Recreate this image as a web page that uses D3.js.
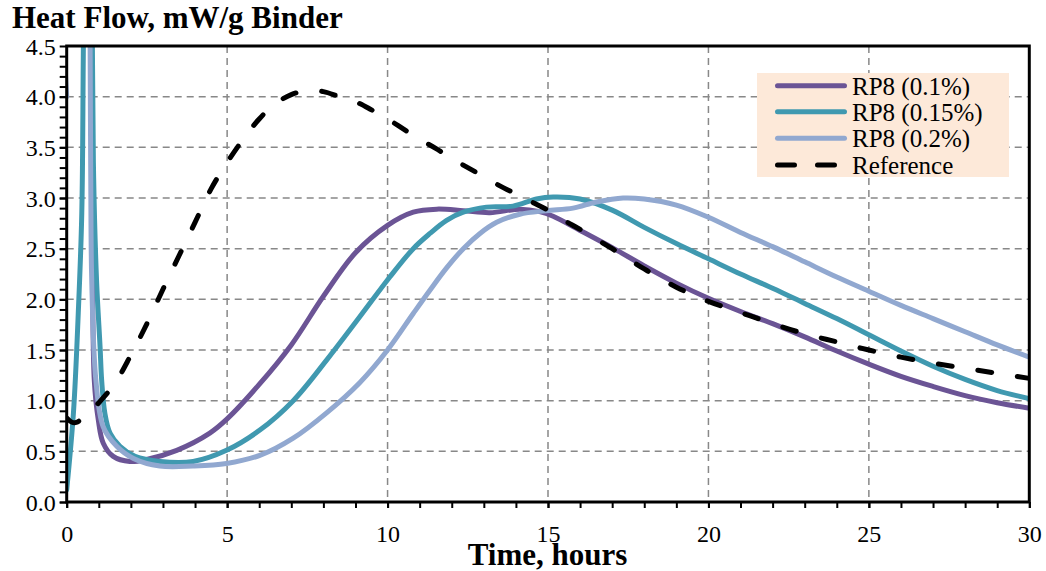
<!DOCTYPE html>
<html>
<head>
<meta charset="utf-8">
<script src="https://cdn.jsdelivr.net/npm/d3@7"></script>
<style>
  html, body { margin: 0; padding: 0; background: #fff; }
  svg { display: block; }
</style>
</head>
<body>
<svg id="chart" width="1046" height="571"></svg>
<script>
// Heat flow (mW/g binder) against time (hours) for three RP8 dosages and the reference mix.
const hoursRP8_01 = [0.7, 0.78, 0.80, 0.86, 0.985, 1.14, 1.45, 1.97, 2.49, 3.43, 4.46, 5, 6, 7, 8, 9, 10, 10.8, 11.53, 12.36, 13.19, 14.12, 14.74, 15.16, 16, 17, 18, 19, 20, 21, 22, 23, 24, 25, 26, 27, 28, 29, 30];
const flowRP8_01  = [8.0, 4.5, 3.18, 1.2, 0.81, 0.58, 0.45, 0.40, 0.42, 0.51, 0.68, 0.82, 1.16, 1.55, 2.03, 2.46, 2.73, 2.86, 2.89, 2.875, 2.855, 2.89, 2.865, 2.82, 2.68, 2.51, 2.33, 2.16, 2.01, 1.88, 1.76, 1.63, 1.49, 1.36, 1.24, 1.14, 1.05, 0.98, 0.925];

const hoursRP8_015 = [0, 0.21, 0.36, 0.47, 0.52, 0.6, 0.75, 0.8, 0.84, 0.93, 1.04, 1.09, 1.19, 1.35, 1.66, 2.13, 2.91, 3.94, 4.98, 6.02, 7.06, 8.1, 9.14, 10.07, 10.8, 11.32, 11.84, 12.36, 13.08, 13.91, 14.64, 15.16, 16, 17, 18, 19, 20, 21, 22, 23, 24, 25, 26, 27, 28, 29, 30];
const flowRP8_015  = [0.12, 0.88, 1.86, 2.85, 4.5, 7.0, 7.0, 4.5, 3.2, 2.19, 1.53, 1.2, 0.875, 0.68, 0.55, 0.45, 0.40, 0.40, 0.51, 0.71, 1.0, 1.40, 1.83, 2.22, 2.50, 2.65, 2.78, 2.86, 2.91, 2.92, 2.99, 3.01, 2.99, 2.88, 2.71, 2.55, 2.40, 2.25, 2.11, 1.96, 1.81, 1.65, 1.49, 1.34, 1.21, 1.10, 1.02];

const hoursRP8_02 = [0, 0.05, 0.65, 0.73, 0.75, 0.78, 0.91, 1.14, 1.56, 2.08, 2.9, 3.94, 4.98, 6.02, 7.06, 8.1, 9.14, 10.0, 10.8, 11.32, 11.84, 12.36, 12.88, 13.40, 14.12, 14.95, 15.78, 16.51, 17.34, 18, 19, 20, 21, 22, 23, 24, 25, 26, 27, 28, 29, 30];
const flowRP8_02  = [4.0, 8.0, 8.0, 4.5, 3.18, 2.19, 1.2, 0.74, 0.55, 0.43, 0.355, 0.355, 0.38, 0.46, 0.63, 0.88, 1.18, 1.50, 1.86, 2.09, 2.31, 2.50, 2.65, 2.76, 2.84, 2.875, 2.90, 2.96, 3.00, 2.99, 2.93, 2.81, 2.66, 2.52, 2.37, 2.22, 2.08, 1.94, 1.81, 1.68, 1.55, 1.43];

const hoursRef = [0, 0.15, 0.3, 0.5, 0.75, 1.0, 1.5, 2.0, 2.5, 3.0, 3.5, 4.0, 4.5, 5.0, 5.5, 6.0, 6.5, 7.0, 7.5, 8.0, 8.5, 9.0, 9.5, 10, 10.5, 11, 11.5, 12, 12.5, 13, 13.5, 14, 14.5, 15, 15.5, 16, 17, 18, 19, 20, 21, 22, 23, 24, 25, 26, 27, 28, 29, 30];
const flowRef  = [0.83, 0.79, 0.785, 0.83, 0.9, 0.98, 1.17, 1.45, 1.76, 2.10, 2.43, 2.76, 3.09, 3.35, 3.58, 3.78, 3.93, 4.02, 4.06, 4.05, 4.0, 3.95, 3.87, 3.78, 3.68, 3.58, 3.49, 3.39, 3.30, 3.21, 3.12, 3.04, 2.96, 2.88, 2.78, 2.69, 2.50, 2.30, 2.12, 1.98, 1.87, 1.76, 1.66, 1.58, 1.50, 1.43, 1.37, 1.32, 1.27, 1.22];

const seriesNames = ["RP8 (0.1%)", "RP8 (0.15%)", "RP8 (0.2%)", "Reference"];
const xTicks = [0, 5, 10, 15, 20, 25, 30];
const yTicks = [0.0, 0.5, 1.0, 1.5, 2.0, 2.5, 3.0, 3.5, 4.0, 4.5];

const series = [
  { name: seriesNames[0], xs: hoursRP8_01,  ys: flowRP8_01,  color: "#6b5495", dash: null },
  { name: seriesNames[1], xs: hoursRP8_015, ys: flowRP8_015, color: "#4099b0", dash: null },
  { name: seriesNames[2], xs: hoursRP8_02,  ys: flowRP8_02,  color: "#91a8d0", dash: null },
  { name: seriesNames[3], xs: hoursRef,     ys: flowRef,     color: "#000000", dash: "14 26" }
];

const SERIF = '"Liberation Serif", "Times New Roman", Times, serif';
const svg = d3.select("#chart");
const plotL = 66.7, plotR = 1029.3, plotT = 46, plotB = 502;

const x = d3.scaleLinear().domain([0, 30]).range([plotL, plotR]);
const y = d3.scaleLinear().domain([0, 4.5]).range([plotB, plotT]);

// gridlines
const grid = svg.append("g").attr("stroke", "#888").attr("stroke-width", 1.5).attr("stroke-dasharray", "7 5");
grid.selectAll("line.h").data(yTicks.filter(v => v > 0 && v < 4.5)).join("line").attr("class", "h")
  .attr("x1", plotL).attr("x2", plotR).attr("y1", d => y(d)).attr("y2", d => y(d));
grid.selectAll("line.v").data(xTicks.filter(v => v > 0 && v < 30)).join("line").attr("class", "v")
  .attr("y1", plotT).attr("y2", plotB).attr("x1", d => x(d)).attr("x2", d => x(d));

// legend box (behind curves)
const legend = svg.append("g");
legend.append("rect").attr("x", 757).attr("y", 73).attr("width", 252).attr("height", 104).attr("fill", "#fde9d9");

// curves, clipped to the plot area
svg.append("clipPath").attr("id", "plotclip").append("rect")
  .attr("x", plotL).attr("y", plotT).attr("width", plotR - plotL).attr("height", plotB - plotT);

const line = d3.line().curve(d3.curveCatmullRom.alpha(0.5)).x(d => x(d[0])).y(d => y(d[1]));
const curves = svg.append("g").attr("clip-path", "url(#plotclip)");
series.forEach(s => {
  curves.append("path")
    .attr("d", line(s.xs.map((v, i) => [v, s.ys[i]])))
    .attr("fill", "none")
    .attr("stroke", s.color)
    .attr("stroke-width", 5)
    .attr("stroke-linecap", "round")
    .attr("stroke-linejoin", "round")
    .attr("stroke-dasharray", s.dash);
});

// axes
const yAxis = d3.axisLeft(y).tickValues(yTicks).tickFormat(d3.format(".1f")).tickSize(7).tickPadding(4);
const yMinor = d3.axisLeft(y).tickValues(d3.range(0, 45).map(i => i / 10)).tickFormat("").tickSize(7);
const xAxis = d3.axisBottom(x).tickValues(xTicks).tickFormat(d3.format("d")).tickSize(6).tickPadding(6);
const xMinor = d3.axisBottom(x).tickValues(d3.range(0, 31)).tickFormat("").tickSize(6);

function styleAxis(g) {
  g.attr("font-family", null).attr("font-size", null);
  g.select(".domain").remove();
  g.selectAll(".tick line").attr("stroke", "#000").attr("stroke-width", 2);
  g.selectAll(".tick text").style("font-family", SERIF).style("font-size", "24px").attr("fill", "#000");
}
svg.append("g").attr("transform", `translate(${plotL},0)`).call(yMinor).call(styleAxis);
const gy = svg.append("g").attr("transform", `translate(${plotL},0)`).call(yAxis).call(styleAxis);
gy.selectAll(".tick text").attr("dy", null).attr("y", 8);
svg.append("g").attr("transform", `translate(0,${plotB})`).call(xMinor).call(styleAxis);
const gx = svg.append("g").attr("transform", `translate(0,${plotB})`).call(xAxis).call(styleAxis);
gx.selectAll(".tick text").attr("dy", null).attr("y", 40);

// frame
svg.append("rect").attr("x", plotL).attr("y", plotT).attr("width", plotR - plotL).attr("height", plotB - plotT)
  .attr("fill", "none").attr("stroke", "#000").attr("stroke-width", 3);

// legend entries
series.forEach((s, i) => {
  const ly = [85.7, 111.7, 138.3, 165][i];
  legend.append("line")
    .attr("x1", 777.5).attr("x2", 844.5).attr("y1", ly).attr("y2", ly)
    .attr("stroke", s.color).attr("stroke-width", 5).attr("stroke-linecap", "round")
    .attr("stroke-dasharray", s.dash ? "17 23" : null);
  legend.append("text").attr("x", 852).attr("y", ly + 9)
    .style("font-family", SERIF).style("font-size", "25px").attr("fill", "#000").text(s.name);
});

// titles
svg.append("text").attr("x", 12).attr("y", 28)
  .style("font-family", SERIF).style("font-size", "31px").style("font-weight", "bold")
  .text("Heat Flow, mW/g Binder");
svg.append("text").attr("x", 547.5).attr("y", 565)
  .style("font-family", SERIF).style("font-size", "31px").style("font-weight", "bold")
  .attr("text-anchor", "middle").text("Time, hours");
</script>
</body>
</html>
